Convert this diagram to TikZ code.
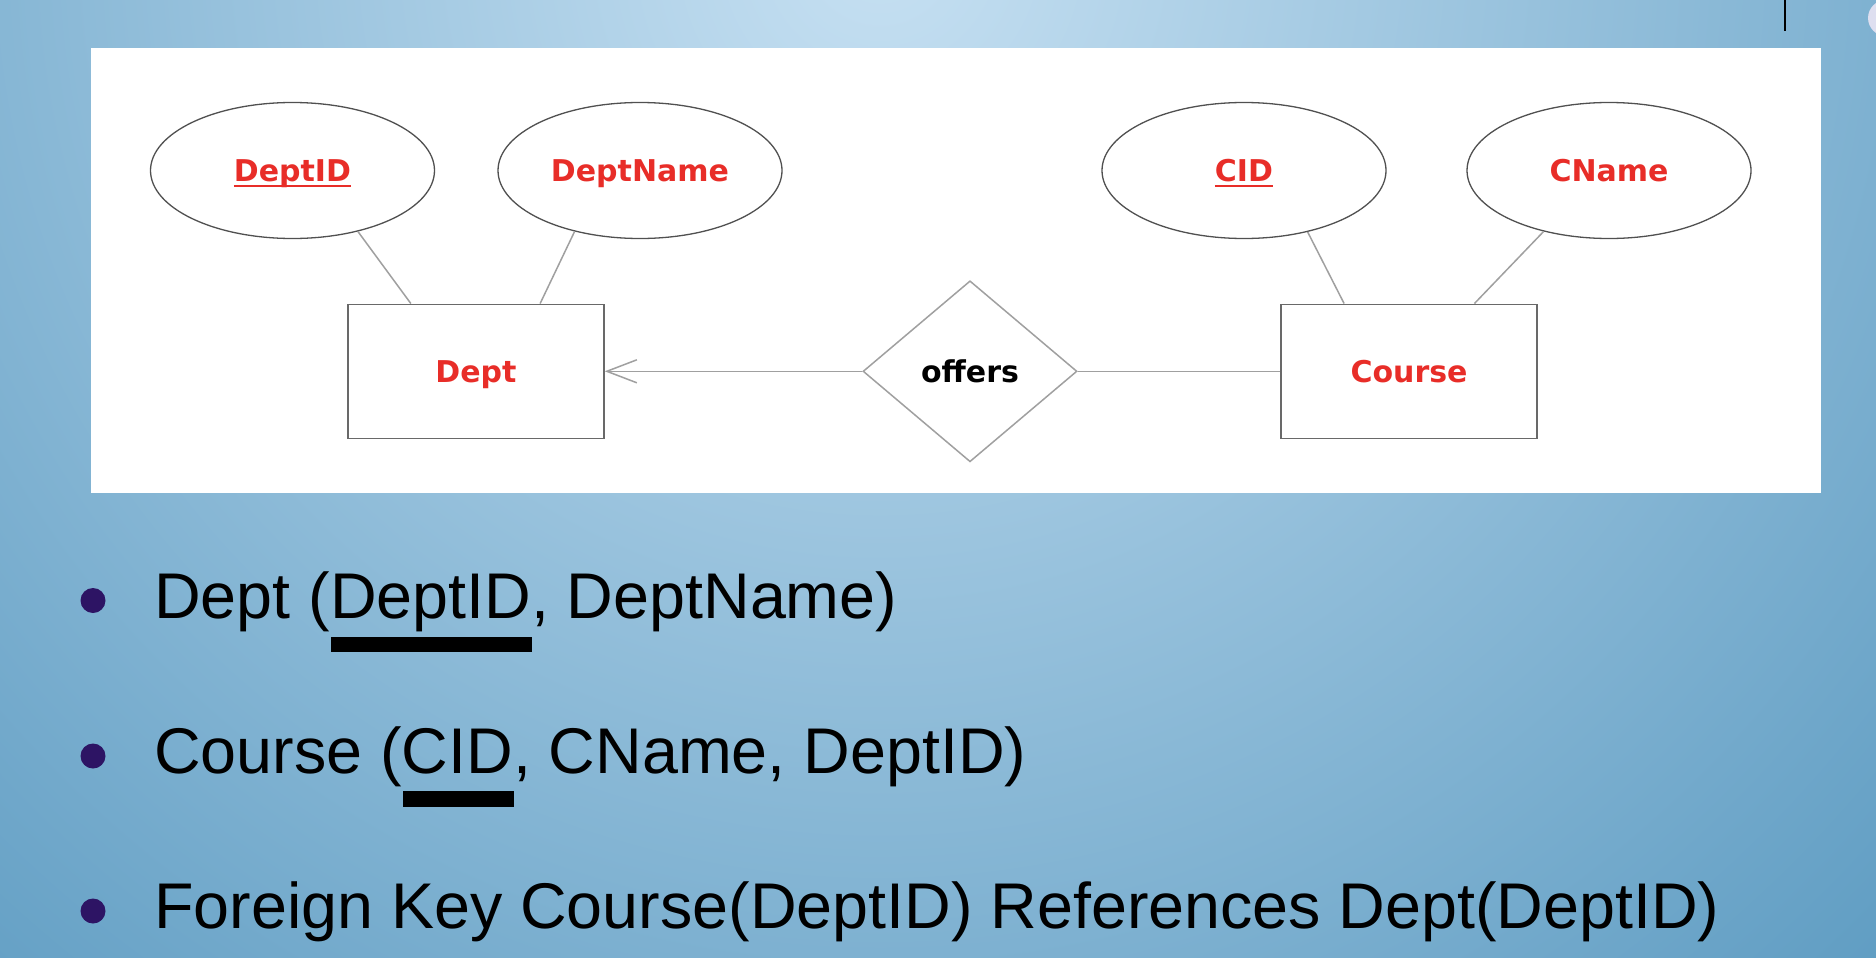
\documentclass[tikz,border=0pt]{standalone}
\usepackage{fontspec}
\setmainfont{Liberation Sans}
\newfontfamily\erfont{DejaVu Sans}
\usetikzlibrary{shapes.geometric,arrows.meta,calc}

\definecolor{bgIn}{RGB}{198,224,242}
\definecolor{bgOut}{RGB}{94,156,194}
\definecolor{erred}{RGB}{232,45,40}
\definecolor{ellline}{RGB}{80,80,80}
\definecolor{boxline}{RGB}{105,105,105}
\definecolor{linkline}{RGB}{160,160,160}
\definecolor{bulletc}{RGB}{45,20,100}
\definecolor{dotc}{RGB}{222,223,240}

% key attribute: text with a thin rule just under the baseline
\newsavebox\keybox
\newcommand\keyattr[1]{\sbox\keybox{#1}\rlap{\rule[-5.5pt]{\wd\keybox}{2pt}}\usebox\keybox}

\tikzset{
  erlabel/.style={font=\erfont\bfseries\fontsize{30}{36}\selectfont,
                  text height=22pt, text depth=0pt, inner sep=0pt},
  attrib/.style={erlabel, ellipse, draw=ellline, line width=1.3pt, fill=white,
                 minimum width=284pt, minimum height=136pt, text=erred},
  entity/.style={erlabel, rectangle, draw=boxline, line width=1.5pt, fill=white,
                 minimum width=256pt, minimum height=134pt, text=erred},
  relship/.style={erlabel, diamond, draw=linkline, line width=1.5pt, fill=white,
                  minimum width=214pt, minimum height=181pt, text=black},
  link/.style={draw=linkline, line width=1.5pt},
  bullet/.style={circle, fill=bulletc, minimum size=25pt, inner sep=0pt},
  item/.style={anchor=base west, inner sep=0pt, font=\fontsize{64.6}{78}\selectfont},
  keybar/.style={fill=black},
}

\begin{document}
\begin{tikzpicture}[x=1pt, y=-1pt]
\useasboundingbox (0,0) rectangle (1876,958);

% slide background
\begin{scope}
  \clip (0,0) rectangle (1876,958);
  \fill[bgOut] (0,0) rectangle (1876,958);
  \shade[inner color=bgIn, outer color=bgOut] (880,-50) circle (1450);
  \fill[dotc] (1886,18) circle (18);
\end{scope}
\draw[black, line width=2pt] (1785,0) -- (1785,31);

% diagram panel
\fill[white] (91,48) rectangle (1821,493);

% ER diagram
\node[attrib] (deptid)   at (292.5,170.5) {\keyattr{DeptID}};
\node[attrib] (deptname) at (640,170.5)   {DeptName};
\node[attrib] (cid)      at (1244,170.5)  {\keyattr{CID}};
\node[attrib] (cname)    at (1609,170.5)  {CName};

\node[entity]  (dept)   at (476,371.3)  {Dept};
\node[entity]  (course) at (1409,371.3) {Course};
\node[relship] (offers) at (970,371.3)  {offers};

\draw[link] (deptid.-43)    -- ($(dept.north west)!0.247!(dept.north east)$);
\draw[link] (deptname.-137) -- ($(dept.north west)!0.749!(dept.north east)$);
\draw[link] (cid.-44)       -- ($(course.north west)!0.248!(course.north east)$);
\draw[link] (cname.-137)    -- ($(course.north west)!0.754!(course.north east)$);

\draw[link, -{Straight Barb[length=30pt, width=23pt]}] (offers.west) -- (dept.east);
\draw[link] (offers.east) -- (course.west);

% relational schema
\node[bullet] (b1) at (93,600.5) {};
\node[bullet] (b2) at (93,756)   {};
\node[bullet] (b3) at (93,911)   {};

\node[item] (l1) at (154,618.3) {Dept (DeptID, DeptName)};
\node[item] (l2) at (154,773.3) {Course (CID, CName, DeptID)};
\node[item] (l3) at (154,928.3) {Foreign Key Course(DeptID) References Dept(DeptID)};

\fill[keybar] (331,637) rectangle (532,652);
\fill[keybar] (403,791) rectangle (513.5,806.7);
\end{tikzpicture}
\end{document}
